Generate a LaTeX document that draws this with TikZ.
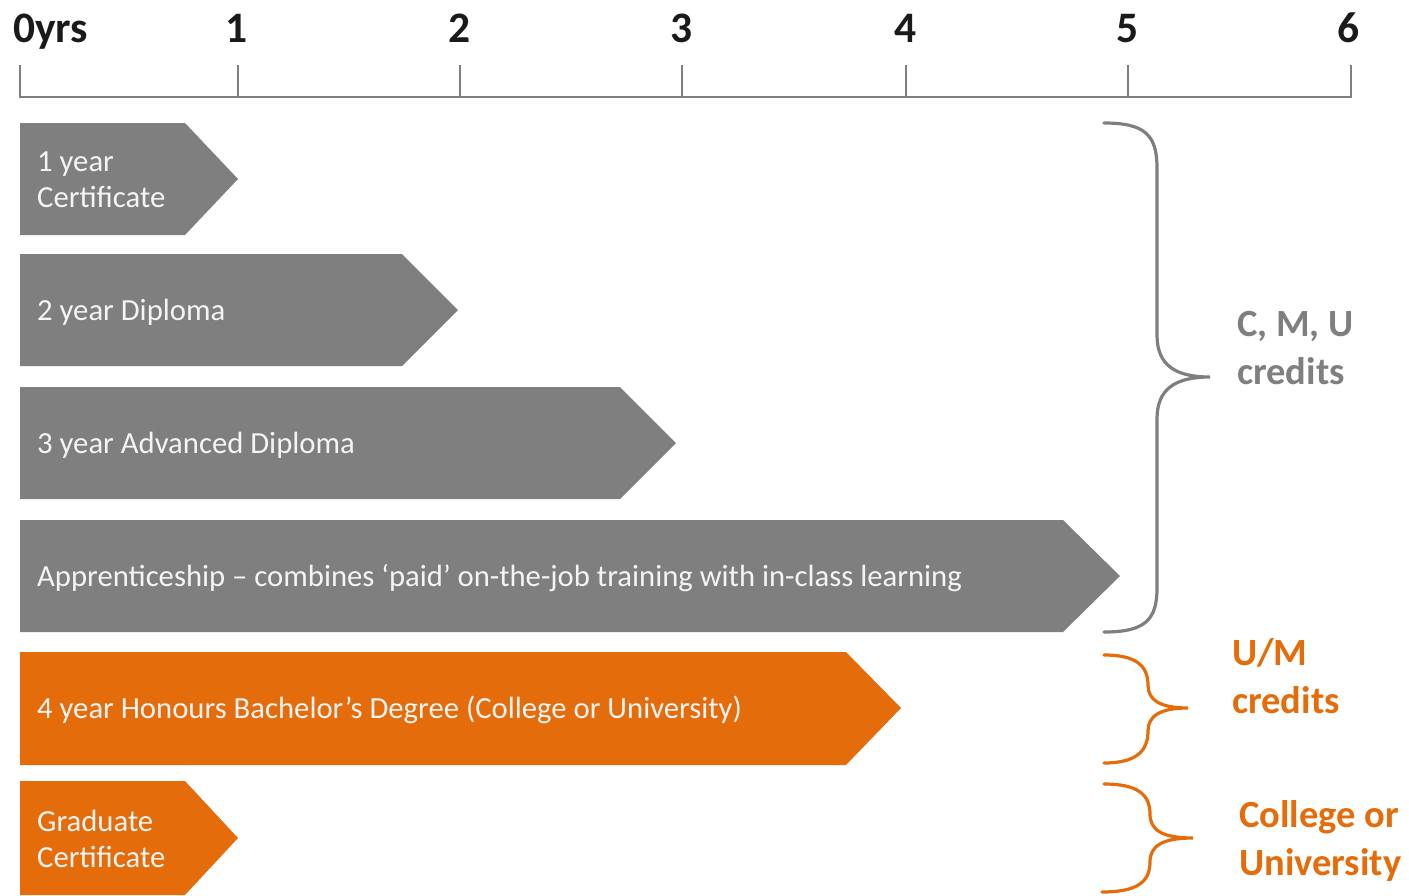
\documentclass[tikz,border=0pt]{standalone}
\usepackage{fontspec}
\setmainfont{Carlito}
\definecolor{bargrey}{HTML}{7F7F7F}
\definecolor{barorange}{HTML}{E46C0A}
\definecolor{txtlight}{HTML}{F4F4F4}
\definecolor{axistext}{HTML}{1A1A1A}
\begin{document}
\begin{tikzpicture}[x=1pt,y=-1pt,
  greybar/.style={fill=bargrey},
  orangebar/.style={fill=barorange},
  bartext/.style={text=txtlight, font=\fontsize{30.7}{36}\selectfont, anchor=west, align=left, inner sep=0pt},
  ticklabel/.style={text=axistext, font=\bfseries\fontsize{43.5}{48}\selectfont, anchor=base, inner sep=0pt},
  axisline/.style={draw=bargrey, line width=2pt},
  bracegrey/.style={draw=bargrey, line width=3.2pt, line cap=round},
  braceorange/.style={draw=barorange, line width=3.2pt, line cap=round},
  sidetext/.style={font=\bfseries\fontsize{38.5}{48}\selectfont, align=left, anchor=west, inner sep=0pt}]

\useasboundingbox (0,0) rectangle (1409,895);

% axis
\draw[axisline] (20,65) -- (20,97) -- (1351,97) -- (1351,65);
\foreach \x in {238,460,682,906,1128} \draw[axisline] (\x,97) -- (\x,65);
\node[ticklabel, anchor=base west] (t0) at (13,42) {0yrs};
\node[ticklabel] (t1) at (237,42) {1};
\node[ticklabel] (t2) at (460,42) {2};
\node[ticklabel] (t3) at (682,42) {3};
\node[ticklabel] (t4) at (906,42) {4};
\node[ticklabel] (t5) at (1128,42) {5};
\node[ticklabel] (t6) at (1349,42) {6};

% bars
\fill[greybar] (20,123) -- (185,123) -- (238,179) -- (185,235) -- (20,235) -- cycle;
\node[bartext] (b1) at (37,180) {1 year\\Certificate};
\fill[greybar] (20,254) -- (402,254) -- (458,310) -- (402,366) -- (20,366) -- cycle;
\node[bartext] (b2) at (37,312) {2 year Diploma};
\fill[greybar] (20,387) -- (620,387) -- (676,443) -- (620,499) -- (20,499) -- cycle;
\node[bartext] (b3) at (37,445) {3 year Advanced Diploma};
\fill[greybar] (20,520) -- (1063,520) -- (1120,576) -- (1063,632) -- (20,632) -- cycle;
\node[bartext] (b4) at (37,578) {Apprenticeship – combines ‘paid’ on-the-job training with in-class learning};
\fill[orangebar] (20,652) -- (846,652) -- (901,708) -- (846,765) -- (20,765) -- cycle;
\node[bartext] (b5) at (37,710) {4 year Honours Bachelor’s Degree (College or University)};
\fill[orangebar] (20,781) -- (185,781) -- (238,838) -- (185,895) -- (20,895) -- cycle;
\node[bartext] (b6) at (37,839) {Graduate\\Certificate};

% braces
\draw[bracegrey] (1104,123) .. controls (1145,123) and (1157,135) .. (1157,168)
  -- (1157,335) .. controls (1157,365) and (1175,377) .. (1210,377)
  .. controls (1175,377) and (1157,389) .. (1157,419)
  -- (1157,588) .. controls (1157,620) and (1145,632) .. (1104,632);
\draw[braceorange] (1104,655) .. controls (1135,655) and (1148,665) .. (1148,685)
  .. controls (1148,700) and (1160,708) .. (1188,708)
  .. controls (1160,708) and (1148,716) .. (1148,731)
  .. controls (1148,752) and (1135,763) .. (1104,763);
\draw[braceorange] (1104,784) .. controls (1137,784) and (1150,794) .. (1150,814)
  .. controls (1150,830) and (1162,838) .. (1193,838)
  .. controls (1162,838) and (1150,846) .. (1150,862)
  .. controls (1150,882) and (1137,892) .. (1102,892);

% side labels
\node[sidetext, text=bargrey] (s1) at (1237,348) {C, M, U\\credits};
\node[sidetext, text=barorange] (s2) at (1232,676) {U/M\\credits};
\node[sidetext, text=barorange] (s3) at (1239,841) {College or\\University};
\end{tikzpicture}
\end{document}
